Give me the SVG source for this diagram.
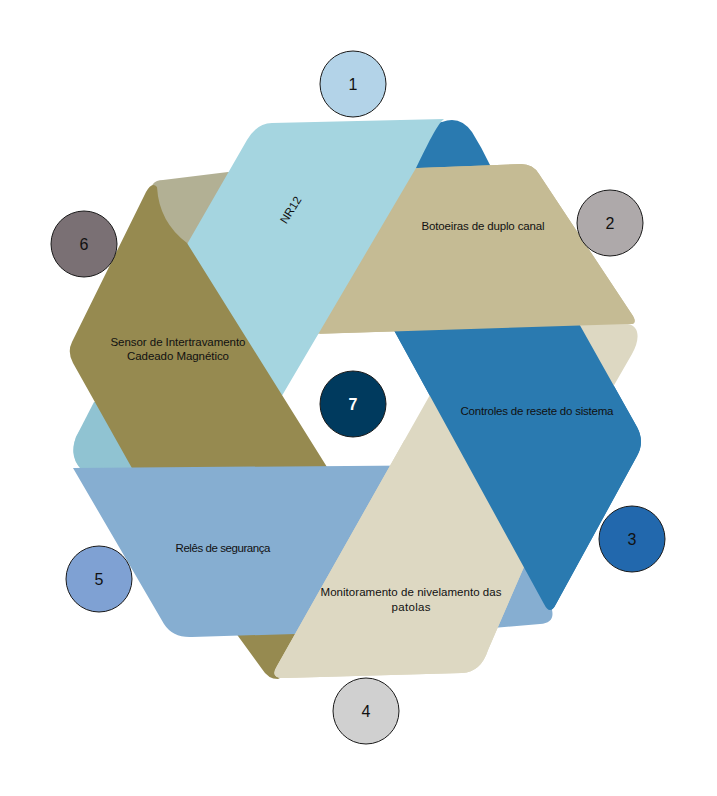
<svg xmlns="http://www.w3.org/2000/svg" xmlns:xlink="http://www.w3.org/1999/xlink" width="717" height="796" viewBox="0 0 717 796">
<style>
.lbl{font-family:"Liberation Sans",Arial,sans-serif;font-size:11.5px;fill:#111;text-anchor:middle}
.num{font-family:"Liberation Sans",Arial,sans-serif;font-size:16px;fill:#111;text-anchor:middle}
.circ{stroke:#1a1a1a;stroke-width:1}
</style>
<defs>
<path id="bandD" d="M 287,135 L 442,122 Q 460,115 472,132 Q 482,148 490,165 L 637,427 Q 645,442 637,456 L 556,604 Q 550,616 544,604 Z"/>
<path id="bandB" d="M 153,184 Q 156,180 163,180 L 228,172 L 418,168 L 521,164 Q 533,164 539,174 L 633,316 Q 638,325 628,324 L 246,336 L 120,250 L 150,189 Z"/>
<path id="bandL" d="M 247,140 Q 257,123 272,123 L 444,119 C 437,124 427,146 416,168 L 237,472 L 84,472 Q 68,458 76,437 Z"/>
<path id="bandO" d="M 72,342 L 146,192 Q 152,181 157,187 Q 159,222 187,243 L 327,467 L 332,600 L 310,662 L 278,679 Q 268,679 262,669 L 238,636 L 133,470 L 73,363 Q 67,352 72,342 Z"/>
<path id="bandS" d="M 73,468 L 472,465 L 552,610 Q 555,623 540,624 L 493,628 L 192,637 Q 173,638 164,624 Z"/>
<path id="bandM" d="M 470,324 L 628,324 C 640,326 640,340 632,354 L 613,387 L 527,560 L 488,650 Q 481,672 462,673 L 285,678 Q 269,679 277,666 Z"/>
<linearGradient id="gB" gradientUnits="userSpaceOnUse" x1="230" y1="0" x2="262" y2="0">
<stop offset="0" stop-color="#B2B094"/>
<stop offset="1" stop-color="#C5BB94"/>
</linearGradient>
<clipPath id="clipLow"><rect x="0" y="300" width="717" height="496"/></clipPath>
<clipPath id="clipBR"><polygon points="428,150 717,150 717,345 313,345"/></clipPath>
<clipPath id="clipM"><polygon points="0,440 454,440 561,634 561,796 0,796"/></clipPath>
</defs>

<g id="ribbon-back">
<use xlink:href="#bandD" fill="#2A7AB0"/>
<use xlink:href="#bandB" fill="url(#gB)"/>
</g>

<g id="node-nr12">
<use xlink:href="#bandL" fill="#A5D5E0"/>
<path d="M 94,402 L 150,402 L 150,472 L 84,472 Q 68,458 76,437 Z" fill="#90C3D2"/>
<text class="lbl" transform="translate(294,212) rotate(-58)">NR12</text>
</g>

<g id="node-sensor">
<use xlink:href="#bandO" fill="#968A50"/>
<text class="lbl" x="178" y="346" textLength="135" lengthAdjust="spacing">Sensor de Intertravamento</text>
<text class="lbl" x="178" y="360" textLength="102" lengthAdjust="spacing">Cadeado Magnético</text>
</g>

<g id="node-reles">
<use xlink:href="#bandS" fill="#86AED1"/>
<text class="lbl" x="223" y="552" textLength="95" lengthAdjust="spacing">Relês de segurança</text>
</g>

<g id="node-monitoramento">
<use xlink:href="#bandM" fill="#DDD8C2"/>
<use xlink:href="#bandM" fill="#DDD8C2" clip-path="url(#clipM)"/>
<text class="lbl" x="411" y="596" textLength="181" lengthAdjust="spacing">Monitoramento de nivelamento das</text>
<text class="lbl" x="411" y="611" textLength="39" lengthAdjust="spacing">patolas</text>
</g>

<g id="node-controles">
<use xlink:href="#bandD" fill="#2A7AB0" clip-path="url(#clipLow)"/>
<text class="lbl" x="537" y="415" textLength="153" lengthAdjust="spacing">Controles de resete do sistema</text>
</g>

<g id="node-botoeiras">
<use xlink:href="#bandB" fill="#C5BB94" clip-path="url(#clipBR)"/>
<text class="lbl" x="483" y="230" textLength="123" lengthAdjust="spacing">Botoeiras de duplo canal</text>
</g>

<g id="connectors"></g>

<g id="marker-1"><circle class="circ" cx="353" cy="84" r="33" fill="#B3D3E8"/><text class="num" x="353" y="90">1</text></g>
<g id="marker-2"><circle class="circ" cx="610" cy="223" r="33" fill="#AEA9AA"/><text class="num" x="610" y="229">2</text></g>
<g id="marker-3"><circle class="circ" cx="632" cy="539" r="33" fill="#2268AD"/><text class="num" x="632" y="545">3</text></g>
<g id="marker-4"><circle class="circ" cx="366" cy="711" r="33" fill="#D0D0D0"/><text class="num" x="366" y="717">4</text></g>
<g id="marker-5"><circle class="circ" cx="99" cy="579" r="33" fill="#7FA1D3"/><text class="num" x="99" y="585">5</text></g>
<g id="marker-6"><circle class="circ" cx="84" cy="244" r="33" fill="#7A7074"/><text class="num" x="84" y="250">6</text></g>
<g id="marker-7"><circle class="circ" cx="353" cy="404" r="33" fill="#003A5E"/><text class="num" x="353" y="410" style="fill:#fff;font-weight:bold">7</text></g>
</svg>
